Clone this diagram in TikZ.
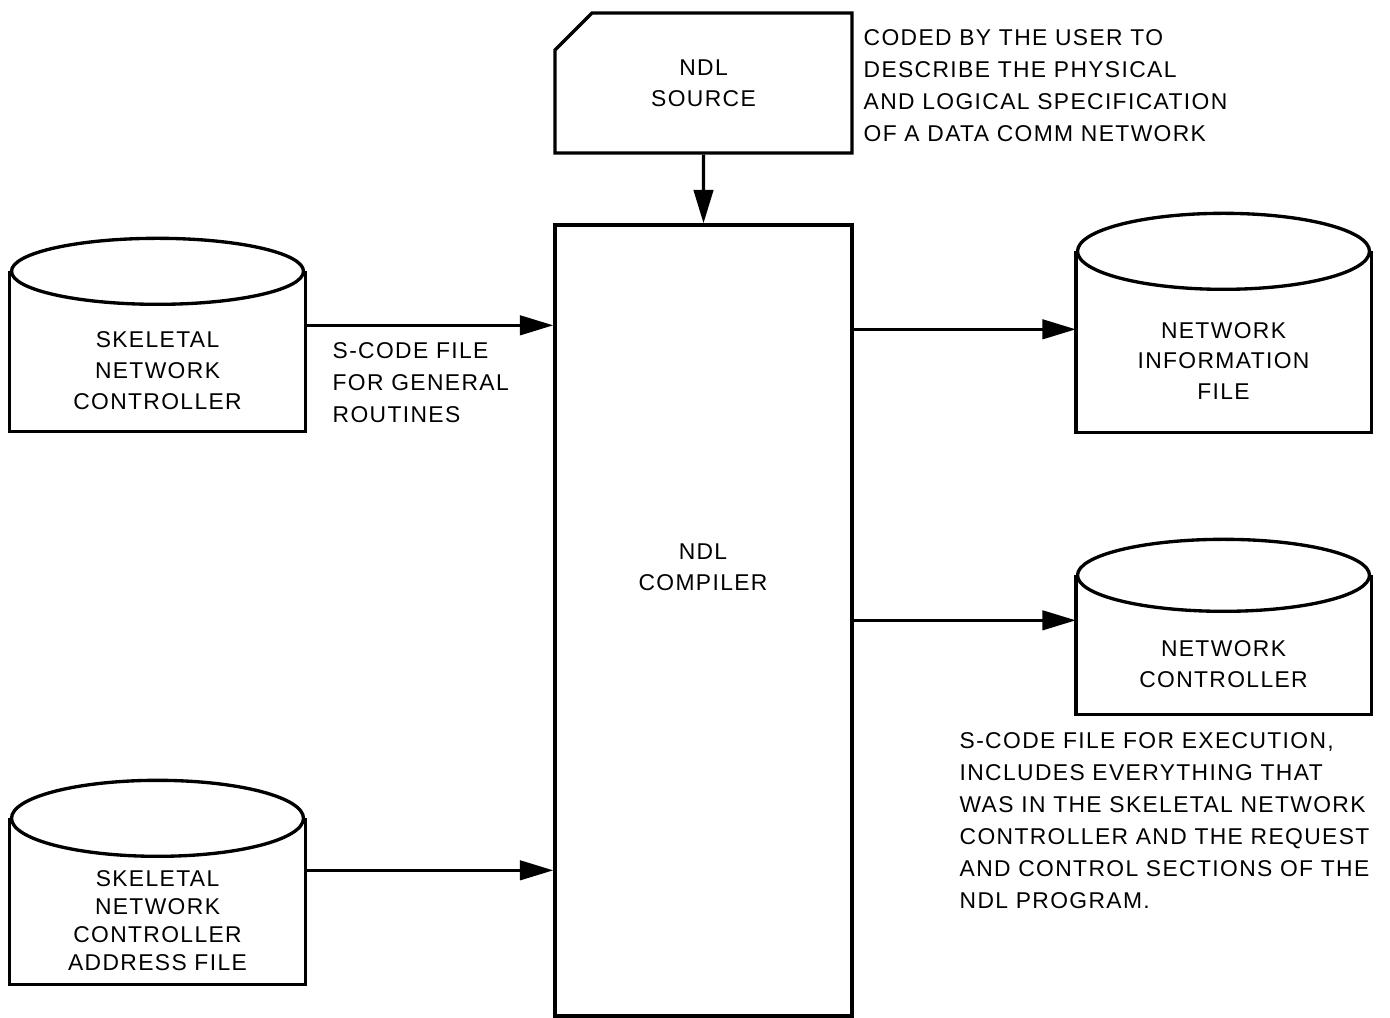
\documentclass[tikz,border=0pt]{standalone}
\usepackage{fontspec}
\setmainfont{Liberation Sans}[LetterSpace=6]
\usetikzlibrary{arrows.meta,shapes.misc}
\tikzset{
  box/.style={draw,minimum width=59.4mm,inner sep=0pt,align=center},
  disk/.style={minimum width=58.4mm,inner sep=0pt,align=center},
  note/.style={anchor=west,inner sep=0pt,align=left,font=\fontsize{13}{18.2}\selectfont},
  arr/.style={-{Triangle[length=19pt,width=11pt]}},
}
\begin{document}
\begin{tikzpicture}[x=0.2mm,y=-0.2mm,line width=1.9pt,font=\fontsize{13}{17.6}\selectfont]
\useasboundingbox (0,0) rectangle (1390,1018);
% card and compiler
\node[box,chamfered rectangle,chamfered rectangle corners=north west,chamfered rectangle sep=3.7mm,minimum height=28mm] (src) at (703.5,83) {NDL\\SOURCE};
\node[box,minimum height=158.2mm] (comp) at (703.5,620.5) {};
\node[align=center,inner sep=0pt] (complbl) at (703,567) {NDL\\COMPILER};
% files
\node[disk,minimum height=23.8mm] (snc) at (157.5,370.5) {SKELETAL\\NETWORK\\CONTROLLER};
\node[disk,minimum height=25mm,font=\fontsize{13}{16}\selectfont] (snca) at (157.5,920.5) {SKELETAL\\NETWORK\\CONTROLLER\\ADDRESS FILE};
\node[disk,minimum height=28mm] (nif) at (1223.5,361) {NETWORK\\INFORMATION\\FILE};
\node[disk,minimum height=19.6mm] (nc) at (1223.5,664) {NETWORK\\CONTROLLER};
\foreach \n/\ry in {snc/33,snca/38,nif/38,nc/36}{
  \draw ([yshift=7.6mm]\n.north west) -- (\n.south west) -- (\n.south east) -- ([yshift=7.6mm]\n.north east);
  \draw ([yshift=7.6mm]\n.north) ellipse [x radius=146,y radius=\ry];
}
% notes
\node[note] (usernote) at (862,85.5) {CODED BY THE USER TO\\DESCRIBE THE PHYSICAL\\AND LOGICAL SPECIFICATION\\OF A DATA COMM NETWORK};
\node[note] (gennote) at (331,383) {S-CODE FILE\\FOR GENERAL\\ROUTINES};
\node[note] (execnote) at (958,820.5) {S-CODE FILE FOR EXECUTION,\\INCLUDES EVERYTHING THAT\\WAS IN THE SKELETAL NETWORK\\CONTROLLER AND THE REQUEST\\AND CONTROL SECTIONS OF THE\\NDL PROGRAM.};
% arrows
\draw[arr] (src) -- (comp);
\draw[arr] ([yshift=-3.2mm]snc.north east) coordinate (a1) -- (a1 -| comp.west);
\draw[arr] ([yshift=-2.8mm]snca.north east) coordinate (a2) -- (a2 -| comp.west);
\draw[arr] ([yshift=-8mm]nif.north west) coordinate (a3) (a3 -| comp.east) -- (a3);
\draw[arr] ([yshift=-1.4mm]nc.north west) coordinate (a4) (a4 -| comp.east) -- (a4);
\end{tikzpicture}
\end{document}
